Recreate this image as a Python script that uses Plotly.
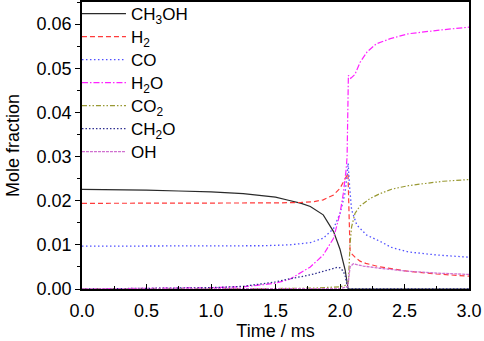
import plotly.graph_objects as go

# ---- data (time in ms, mole fraction) ----
t_ch3oh = [0.0, 0.25, 0.5, 0.75, 1.0, 1.25, 1.5, 1.6, 1.7, 1.77, 1.87, 1.95, 2.0, 2.04, 2.057, 2.063, 2.1, 3.0]
y_ch3oh = [0.02255, 0.02252, 0.0224, 0.0222, 0.0220, 0.0216, 0.0208, 0.0201, 0.0194, 0.0187, 0.0168, 0.0130, 0.0090, 0.0043, 0.0008, 0.0, 0.0, 0.0]

t_h2 = [0.0, 0.5, 1.0, 1.5, 1.7, 1.8, 1.87, 1.95, 2.0, 2.04, 2.062, 2.072, 2.078, 2.09, 2.12, 2.155, 2.2, 2.31, 2.53, 2.75, 3.0]
y_h2 = [0.0194, 0.0194, 0.0194, 0.0195, 0.0196, 0.0198, 0.0202, 0.0213, 0.0228, 0.0248, 0.0262, 0.0150, 0.0088, 0.0080, 0.0071, 0.0063, 0.0058, 0.0050, 0.0040, 0.0034, 0.0029]

t_co = [0.0, 0.5, 1.0, 1.4, 1.61, 1.77, 1.87, 1.95, 2.0, 2.039, 2.057, 2.063, 2.075, 2.09, 2.13, 2.207, 2.31, 2.4, 2.53, 2.75, 3.0]
y_co = [0.0097, 0.0097, 0.0097, 0.0098, 0.0100, 0.0105, 0.0115, 0.0137, 0.0171, 0.0217, 0.0262, 0.0285, 0.0230, 0.0179, 0.0145, 0.0122, 0.0108, 0.0094, 0.0084, 0.0077, 0.0072]

t_h2o = [0.0, 0.5, 1.0, 1.25, 1.5, 1.61, 1.77, 1.87, 1.95, 2.0, 2.026, 2.047, 2.055, 2.065, 2.083, 2.116, 2.155, 2.21, 2.28, 2.39, 2.53, 2.79, 3.0]
y_h2o = [0.0, 0.0001, 0.0003, 0.0005, 0.0013, 0.0022, 0.0050, 0.0077, 0.0115, 0.0171, 0.0217, 0.0269, 0.0300, 0.0484, 0.0477, 0.0486, 0.0513, 0.0537, 0.0555, 0.0567, 0.0578, 0.0587, 0.0593]

t_co2 = [0.0, 1.0, 1.5, 1.8, 1.95, 2.0, 2.04, 2.065, 2.078, 2.09, 2.116, 2.155, 2.233, 2.31, 2.4, 2.53, 2.66, 2.8, 3.0]
y_co2 = [0.0, 0.0, 0.0001, 0.0002, 0.0004, 0.0005, 0.0008, 0.0013, 0.0103, 0.0141, 0.0171, 0.0188, 0.0205, 0.0216, 0.0226, 0.0234, 0.0239, 0.0244, 0.0248]

t_ch2o = [0.0, 0.5, 1.0, 1.25, 1.5, 1.61, 1.77, 1.87, 1.95, 1.98, 2.0, 2.02, 2.039, 2.052, 2.06, 3.0]
y_ch2o = [0.0, 0.0001, 0.0003, 0.0006, 0.0016, 0.0023, 0.0032, 0.0040, 0.0047, 0.0049, 0.0048, 0.0042, 0.0032, 0.0015, 0.0, 0.0]

t_oh = [0.0, 1.0, 2.0, 2.06, 2.07, 2.078, 2.103, 2.18, 2.31, 2.53, 2.75, 3.0]
y_oh = [0.0, 0.0, 0.0001, 0.0005, 0.0030, 0.0050, 0.0057, 0.0052, 0.0047, 0.0040, 0.0036, 0.0033]

names = ["CH<sub>3</sub>OH", "H<sub>2</sub>", "CO", "H<sub>2</sub>O", "CO<sub>2</sub>", "CH<sub>2</sub>O", "OH"]
series_t = [t_ch3oh, t_h2, t_co, t_h2o, t_co2, t_ch2o, t_oh]
series_y = [y_ch3oh, y_h2, y_co, y_h2o, y_co2, y_ch2o, y_oh]

x_ticks = [0.0, 0.5, 1.0, 1.5, 2.0, 2.5, 3.0]
y_ticks = [0.00, 0.01, 0.02, 0.03, 0.04, 0.05, 0.06]

styles = [
    dict(color="#2a2a2a", width=1.2, dash="solid"),
    dict(color="#ff3b3b", width=1.2, dash="5px,3px"),
    dict(color="#5050ff", width=1.3, dash="1.5px,2.5px"),
    dict(color="#ff22ff", width=1.2, dash="6px,2px,1.5px,2px"),
    dict(color="#999933", width=1.2, dash="5px,2px,1.5px,2px,1.5px,2px"),
    dict(color="#2e2e8f", width=1.3, dash="1.5px,2px"),
    dict(color="#d070d0", width=1.3, dash="3px,1px"),
]

# plot area: top 2px, height 287px; legend entries are 23 px apart starting at 14 px
plot_top, plot_h = 2, 287
legend_rows_px = [14 + 23 * i for i in range(len(names))]

fig = go.Figure()
legend_layout = {}
for i, (n, tt, yy, st) in enumerate(zip(names, series_t, series_y, styles)):
    lg = "legend" if i == 0 else f"legend{i + 1}"
    fig.add_trace(go.Scatter(x=tt, y=yy, mode="lines", name=n, line=st, legend=lg))
    legend_layout[lg] = dict(
        x=-0.013, y=1 - (legend_rows_px[i] - plot_top) / plot_h,
        xanchor="left", yanchor="middle",
        bgcolor="rgba(0,0,0,0)", borderwidth=0,
        font=dict(size=17), itemwidth=44,
    )

font_family = "Liberation Sans, Arial, sans-serif"
fig.update_layout(
    width=484, height=341,
    margin=dict(l=82, r=15, t=2, b=52, autoexpand=False),
    paper_bgcolor="white", plot_bgcolor="white",
    font=dict(family=font_family, size=17, color="black"),
    showlegend=True,
    **legend_layout,
)
fig.update_xaxes(
    range=[0, 3.0], tickvals=x_ticks, ticktext=[f"{v:.1f}" for v in x_ticks],
    ticks="inside", ticklen=5, tickwidth=1.2, tickcolor="black",
    minor=dict(dtick=0.25, ticks="inside", ticklen=3, tickwidth=1, tickcolor="black"),
    showline=True, linecolor="black", linewidth=1.5, mirror=True,
    showgrid=False, zeroline=False, automargin=False, ticklabelstandoff=5,
    tickfont=dict(size=18), title=dict(text="Time / ms", font=dict(size=18), standoff=4),
)
fig.update_yaxes(
    range=[0, 0.065], tickvals=y_ticks, ticktext=[f"{v:.2f}" for v in y_ticks],
    ticks="outside", ticklen=5, tickwidth=1.2, tickcolor="black",
    minor=dict(dtick=0.005, ticks="outside", ticklen=3, tickwidth=1, tickcolor="black"),
    showline=True, linecolor="black", linewidth=1.5, mirror=True,
    showgrid=False, zeroline=False, automargin=False,
    tickfont=dict(size=18), title=dict(text="Mole fraction", font=dict(size=18), standoff=12),
)
fig.write_html("out.html", config={"displayModeBar": False},
               post_script="document.body.style.margin='0';document.body.style.padding='0';")
